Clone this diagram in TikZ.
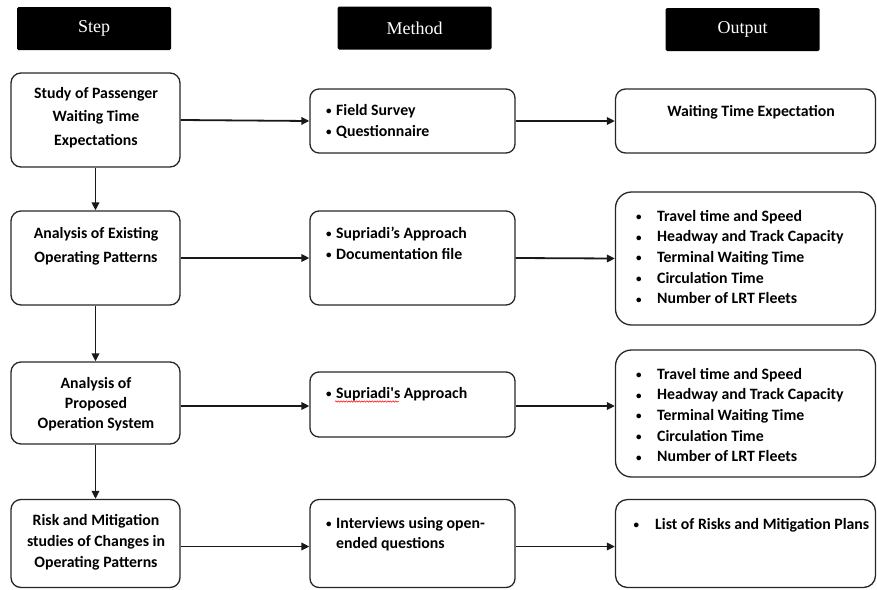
\documentclass[tikz,border=0pt]{standalone}
\usepackage{fontspec}
\setmainfont{Carlito}
\newfontfamily\hdrfont{Liberation Serif}
\usetikzlibrary{arrows.meta,decorations.pathmorphing}
\tikzset{
  hdr/.style={fill=black, minimum width=154pt, minimum height=43pt, rounded corners=1.5pt, inner sep=0pt,
    text=white, font=\hdrfont\fontsize{18}{20}\selectfont},
  box/.style={draw=black!85, line width=1.3pt, rounded corners=10pt, inner sep=0pt},
  stepbox/.style={box, minimum width=169pt},
  methbox/.style={box, minimum width=205pt, rounded corners=9pt},
  outbox/.style={box, minimum width=260pt},
  txt/.style={inner sep=0pt, font=\bfseries\fontsize{15.8}{#1}\selectfont},
  txt/.default=21pt,
  arr/.style={draw=black!90, line width=1.8pt, -{Triangle[length=8pt,width=7.5pt]}},
}
\newcommand{\bl}[1]{\makebox[#1][l]{\raisebox{0.5pt}{\fontsize{11}{11}\selectfont\textbullet}}}
\begin{document}
\begin{tikzpicture}[x=1pt,y=-1pt]
\useasboundingbox (0,0) rectangle (877,589);
% headers
\node[hdr] (hstep) at (94,28.5) {Step};
\node[hdr] (hmeth) at (414.5,28) {Method};
\node[hdr] (hout) at (742.5,29.5) {Output};
% step boxes
\node[stepbox, minimum height=94pt] (s1) at (95.5,120) {};
\node[stepbox, minimum height=94pt] (s2) at (95.5,258) {};
\node[stepbox, minimum height=82pt] (s3) at (95.5,403) {};
\node[stepbox, minimum height=88pt] (s4) at (95.5,543.5) {};
\node[txt=23.5pt, anchor=base] (s1t) at (96,98) {\begin{tabular}[t]{@{}c@{}}Study of Passenger\\Waiting Time\\Expectations\end{tabular}};
\node[txt=24pt, anchor=base] (s2t) at (96,238) {\begin{tabular}[t]{@{}c@{}}Analysis of Existing\\Operating Patterns\end{tabular}};
\node[txt=20pt, anchor=base] (s3t) at (96,388) {\begin{tabular}[t]{@{}c@{}}Analysis of\\Proposed\\Operation System\end{tabular}};
\node[txt=21pt, anchor=base] (s4t) at (96,525) {\begin{tabular}[t]{@{}c@{}}Risk and Mitigation\\studies of Changes in\\Operating Patterns\end{tabular}};
% method boxes
\node[methbox, minimum height=64pt] (m1) at (412.5,121) {};
\node[methbox, minimum height=94pt] (m2) at (412.5,258) {};
\node[methbox, minimum height=65pt] (m3) at (412.5,404.5) {};
\node[methbox, minimum height=88pt] (m4) at (412.5,543.5) {};
\node[txt=21pt, anchor=base west] (m1t) at (326,115) {\begin{tabular}[t]{@{}l@{}}\bl{10pt}Field Survey\\\bl{10pt}Questionnaire\end{tabular}};
\node[txt=21pt, anchor=base west] (m2t) at (326,238) {\begin{tabular}[t]{@{}l@{}}\bl{10pt}Supriadi’s Approach\\\bl{10pt}Documentation file\end{tabular}};
\node[txt=21pt, anchor=base west] (m3t) at (326,398) {\bl{10pt}Supriadi\textquotesingle s Approach};
\node[txt=20pt, anchor=base west] (m4t) at (326,528) {\begin{tabular}[t]{@{}l@{}}\bl{10pt}Interviews using open-\\\hspace{10pt}ended questions\end{tabular}};
\draw[red, line width=0.5pt, decorate, decoration={snake, amplitude=0.7pt, segment length=2.6pt}] (335,401.5) -- (399,401.5);
% output boxes
\node[outbox, minimum height=64pt] (o1) at (745.5,121) {};
\node[outbox, minimum height=133pt, rounded corners=16pt] (o2) at (745.5,258.5) {};
\node[outbox, minimum height=127pt, rounded corners=16pt] (o3) at (745.5,413.5) {};
\node[outbox, minimum height=88pt, rounded corners=12pt] (o4) at (745.5,543.5) {};
\node[txt, anchor=base] (o1t) at (751,116) {Waiting Time Expectation};
\node[txt=20.7pt, anchor=base west] (o2t) at (636,221) {\begin{tabular}[t]{@{}l@{}}\bl{21pt}Travel time and Speed\\\bl{21pt}Headway and Track Capacity\\\bl{21pt}Terminal Waiting Time\\\bl{21pt}Circulation Time\\\bl{21pt}Number of LRT Fleets\end{tabular}};
\node[txt=20.7pt, anchor=base west] (o3t) at (636,379) {\begin{tabular}[t]{@{}l@{}}\bl{21pt}Travel time and Speed\\\bl{21pt}Headway and Track Capacity\\\bl{21pt}Terminal Waiting Time\\\bl{21pt}Circulation Time\\\bl{21pt}Number of LRT Fleets\end{tabular}};
\node[txt, anchor=base west] (o4t) at (633.5,529) {\bl{21.5pt}List of Risks and Mitigation Plans};
% connectors
\draw[arr] (s1.east) -- (m1.west);
\draw[arr] (s2.east) -- (m2.west);
\draw[arr] ([yshift=-3pt]s3.east) -- ([yshift=-1.5pt]m3.west);
\draw[arr] ([yshift=-3pt]s4.east) -- ([yshift=-3pt]m4.west);
\draw[arr] (m1.east) -- (o1.west);
\draw[arr] (m2.east) -- (o2.west);
\draw[arr] ([yshift=-1.5pt]m3.east) -- ([yshift=-1.5pt]m3.east -| o3.west);
\draw[arr] ([yshift=-3pt]m4.east) -- ([yshift=-3pt]o4.west);
\draw[arr] (s1) -- (s2);
\draw[arr] (s2) -- (s3);
\draw[arr] (s3) -- (s4);
\end{tikzpicture}
\end{document}
